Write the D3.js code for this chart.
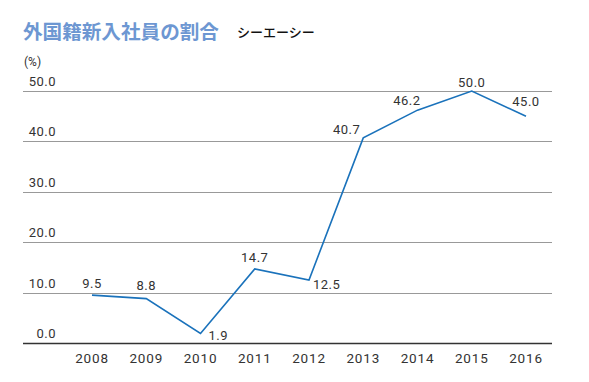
<!DOCTYPE html>
<html><head><meta charset="utf-8">
<script src="https://cdn.jsdelivr.net/npm/d3@7/dist/d3.min.js"></script>
<style>
html,body{margin:0;padding:0;background:#fff;}
svg{display:block;}
</style></head>
<body>
<script>
const years = ["2008","2009","2010","2011","2012","2013","2014","2015","2016"];
const values = [9.5, 8.8, 1.9, 14.7, 12.5, 40.7, 46.2, 50.0, 45.0];
const yTicks = [0, 10, 20, 30, 40, 50];
const titleText = "外国籍新入社員の割合";
const sourceText = "シーエーシー";
const unitText = "(%)";

// label placement per point (style only)
const placement = [
  {dx:0, dy:-7, anchor:"middle"},
  {dx:0, dy:-9, anchor:"middle"},
  {dx:8, dy:7, anchor:"start"},
  {dx:0, dy:-7, anchor:"middle"},
  {dx:4, dy:9, anchor:"start"},
  {dx:-3, dy:-4, anchor:"end"},
  {dx:3, dy:-5, anchor:"end"},
  {dx:0, dy:-4, anchor:"middle"},
  {dx:0, dy:-10, anchor:"middle"}
];

const W = 589, H = 382;
const svg = d3.select("body").append("svg").attr("width", W).attr("height", H);
const font = "Roboto, 'Noto Sans', sans-serif";
const txt = "#333";

const x = d3.scalePoint().domain(years).range([92, 526]);
const y = d3.scaleLinear().domain([0, 50]).range([343, 91]);

svg.append("text").attr("x", 23).attr("y", 39)
  .attr("font-family", "'Noto Sans CJK JP', sans-serif").attr("font-weight", 700)
  .attr("font-size", 19.6).attr("fill", "#6d97d2").text(titleText);
svg.append("text").attr("x", 237).attr("y", 37)
  .attr("font-family", "'Noto Sans CJK JP', sans-serif").attr("font-weight", 500)
  .attr("font-size", 13).attr("fill", "#111").text(sourceText);
svg.append("text").attr("x", 24).attr("y", 66)
  .attr("font-family", font).attr("font-size", 12).attr("fill", txt).text(unitText);

// gridlines
svg.append("g").selectAll("line").data(yTicks).join("line")
  .attr("x1", 23).attr("x2", 552)
  .attr("y1", d => Math.round(y(d)) + 0.5).attr("y2", d => Math.round(y(d)) + 0.5)
  .attr("stroke", d => d === 0 ? "#333" : "#999")
  .attr("stroke-width", d => d === 0 ? 1.5 : 1);

// y labels
svg.append("g").selectAll("text").data(yTicks).join("text")
  .attr("x", 56).attr("y", d => y(d) - 5)
  .attr("text-anchor", "end")
  .attr("font-family", font).attr("font-size", 13).attr("fill", txt)
  .attr("letter-spacing", 0.5)
  .text(d => d.toFixed(1));

// x labels
svg.append("g").selectAll("text").data(years).join("text")
  .attr("x", d => x(d)).attr("y", 363)
  .attr("text-anchor", "middle")
  .attr("font-family", font).attr("font-size", 13.5).attr("font-weight", 400).attr("fill", txt)
  .attr("letter-spacing", 0.8)
  .text(d => d);

// line
const line = d3.line().x((d, i) => x(years[i])).y(d => y(d));
svg.append("path").datum(values).attr("d", line)
  .attr("fill", "none").attr("stroke", "#1a72bb").attr("stroke-width", 1.6)
  .attr("stroke-linejoin", "miter");

// value labels
svg.append("g").selectAll("text").data(values).join("text")
  .attr("x", (d, i) => x(years[i]) + placement[i].dx)
  .attr("y", (d, i) => y(d) + placement[i].dy)
  .attr("text-anchor", (d, i) => placement[i].anchor)
  .attr("font-family", font).attr("font-size", 13).attr("fill", txt)
  .attr("letter-spacing", 0.5)
  .text(d => d.toFixed(1));
</script>
</body></html>
